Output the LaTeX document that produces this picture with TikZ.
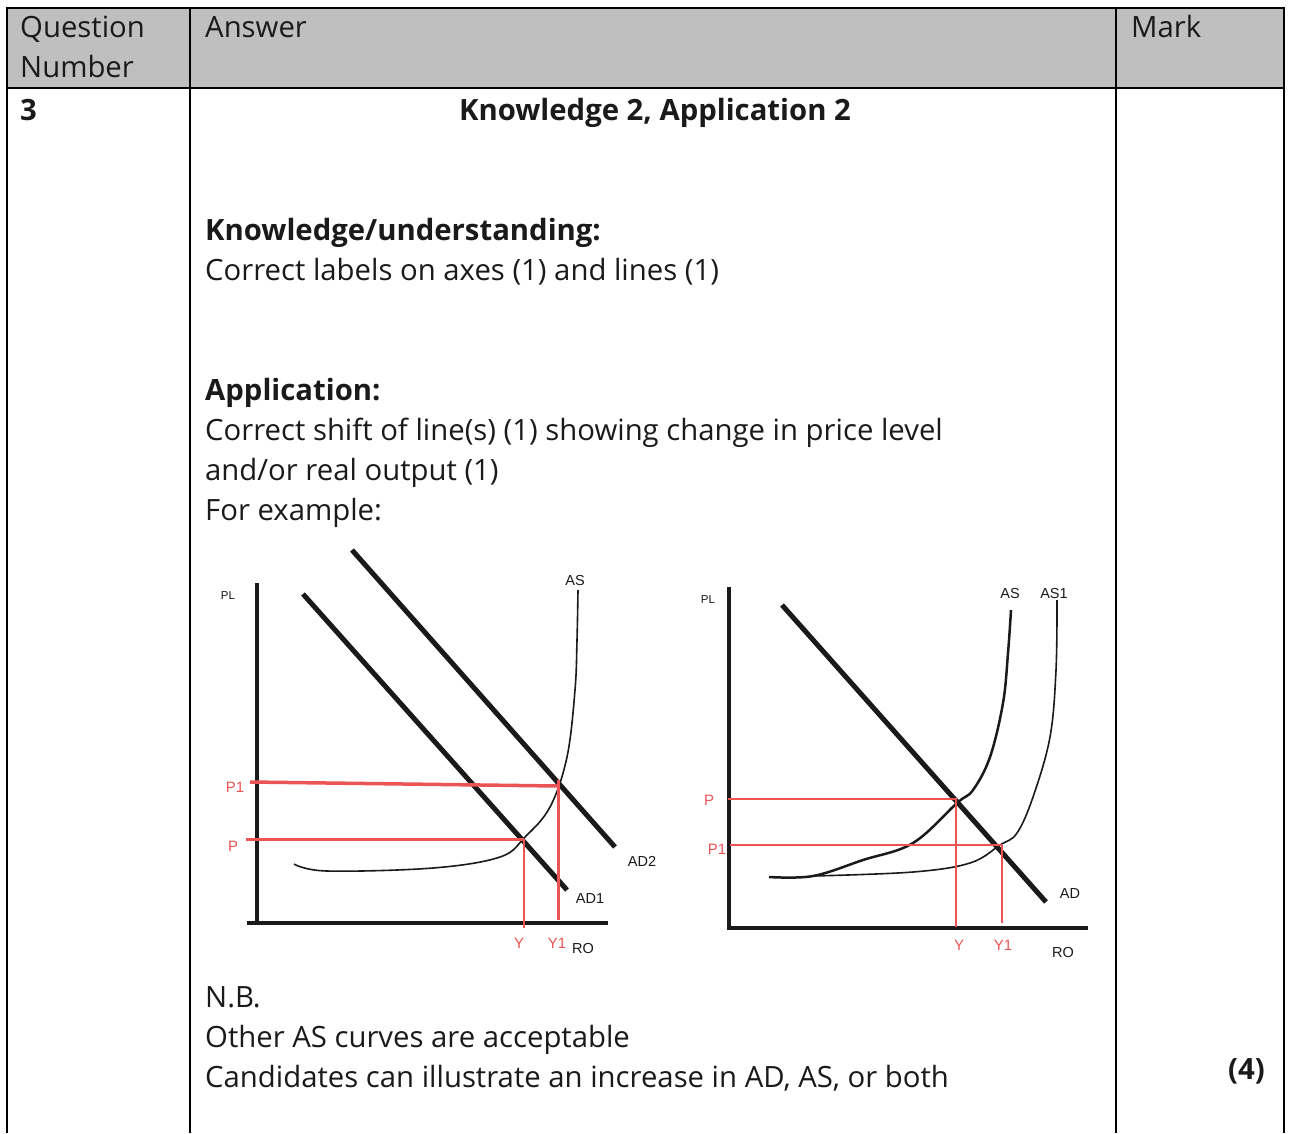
\documentclass[tikz,border=0pt]{standalone}
\usepackage{fontspec}
\setmainfont{Open Sans}
\newfontfamily\chartfont{Liberation Sans}
\usepackage{xcolor}
\usepackage{tikz}
\usetikzlibrary{positioning, calc}
\definecolor{mark-gray}{HTML}{BFBFBF}
\definecolor{mark-red}{HTML}{EB5454}
\definecolor{mark-dark}{HTML}{1A1A1A}

\begin{document}
\begin{tikzpicture}[x=1pt, y=-1pt,
    body/.style={anchor=base west, inner sep=0pt, text=mark-dark, font=\fontsize{29.3}{40}\selectfont},
    bodybold/.style={body, font=\fontsize{29.3}{40}\selectfont\bfseries},
    chart/.style={inner sep=0pt, font=\chartfont\fontsize{14.5}{16}\selectfont, text=mark-dark},
    chartsmall/.style={chart, font=\chartfont\fontsize{11.5}{13}\selectfont},
    chartred/.style={chart, text=mark-red, font=\chartfont\fontsize{15}{16}\selectfont},
    axis/.style={line width=3.5pt, mark-dark},
    demand/.style={line width=5pt, mark-dark},
    guide/.style={line width=2.5pt, mark-red}]
    \useasboundingbox (0,0) rectangle (1289,1133);
    \fill[white] (0,0) rectangle (1289,1133);

    % table frame
    \fill[mark-gray] (7,8) rectangle (1284,88);
    \draw[line width=2.5pt] (7,1133) -- (7,8) -- (1284,8) -- (1284,1133);
    \draw[line width=2.5pt] (7,88) -- (1284,88);
    \draw[line width=2.5pt] (190,8) -- (190,1133);
    \draw[line width=2.5pt] (1116,8) -- (1116,1133);

    % header row
    \node[body] (head-q1) at (20,37) {Question};
    \node[body] (head-q2) at (20,77) {Number};
    \node[body] (head-ans) at (205,37) {Answer};
    \node[body] (head-mark) at (1131,37) {Mark};

    % answer text
    \node[bodybold] (q-num) at (20,120) {3};
    \node[bodybold, anchor=base] (q-title) at (655,120) {Knowledge 2, Application 2};
    \node[bodybold] (kn-head) at (205,240) {Knowledge/understanding:};
    \node[body] (kn-line) at (205,280) {Correct labels on axes (1) and lines (1)};
    \node[bodybold] (app-head) at (205,400) {Application:};
    \node[body] (app-line1) at (205,440) {Correct shift of line(s) (1) showing change in price level};
    \node[body] (app-line2) at (205,480) {and/or real output (1)};
    \node[body] (app-line3) at (205,520) {For example:};
    \node[body] (nb-head) at (205,1007) {N.B.};
    \node[body] (nb-line1) at (205,1047) {Other AS curves are acceptable};
    \node[body] (nb-line2) at (205,1087) {Candidates can illustrate an increase in AD, AS, or both};
    \node[bodybold, anchor=base east] (q-marks) at (1265,1079) {(4)};

    % left diagram: AD shift
    \draw[axis] (257,583) -- (257,923);
    \draw[axis] (247,923) -- (608,923);
    \draw[demand] (303,594) -- (567,890);
    \draw[demand] (352,550) -- (615,847);
    \draw[line width=1.6pt, mark-dark] plot[smooth, tension=0.6] coordinates
        {(294,864) (327,871) (433,868) (500,857) (525,837) (550,807) (567,757) (575,690) (577,640) (578,590)};
    \coordinate (l-e1) at (524,839);
    \coordinate (l-e2) at (558,786);
    \draw[guide, line width=3pt] (246,839) -- (l-e1);
    \draw[guide] (l-e1) -- (524,928);
    \draw[guide, line width=3.5pt] (250,782) -- (l-e2);
    \draw[guide, line width=3pt] (558,780) -- (558,920);
    \node[chartsmall] (l-pl) at (228,596) {PL};
    \node[chart] (l-as) at (575,580) {AS};
    \node[chart] (l-ad2) at (642,861) {AD2};
    \node[chart] (l-ad1) at (590,898) {AD1};
    \node[chartred] (l-p1) at (235,787) {P1};
    \node[chartred] (l-p) at (233,846) {P};
    \node[chartred] (l-y) at (519,943) {Y};
    \node[chartred] (l-y1) at (557,943) {Y1};
    \node[chart] (l-ro) at (583,948) {RO};

    % right diagram: AS shift
    \draw[axis] (729,587) -- (729,928);
    \draw[axis] (727,928) -- (1088,928);
    \draw[demand] (782,605) -- (1046,902);
    \draw[line width=2.5pt, mark-dark] plot[smooth, tension=0.6] coordinates
        {(769,877) (813,876) (863,860) (913,843) (957,803) (973,790) (990,757) (1003,703) (1008,653) (1011,610)};
    \draw[line width=1.6pt, mark-dark] plot[smooth, tension=0.6] coordinates
        {(813,876) (913,872) (970,863) (1000,845) (1017,833) (1033,797) (1050,737) (1056,670) (1057,600)};
    \coordinate (r-e1) at (956,799);
    \coordinate (r-e2) at (1002,845);
    \draw[guide, line width=2pt] (728,799) -- (r-e1) -- (956,927);
    \draw[guide] (730,845) -- (r-e2);
    \draw[guide, line width=1.5pt] (r-e2) -- (1002,923);
    \node[chartsmall] (r-pl) at (708,600) {PL};
    \node[chart] (r-as) at (1010,593) {AS};
    \node[chart] (r-as1) at (1054,593) {AS1};
    \node[chart] (r-ad) at (1070,893) {AD};
    \node[chartred] (r-p) at (709,800) {P};
    \node[chartred] (r-p1) at (717,849) {P1};
    \node[chartred] (r-y) at (959,945) {Y};
    \node[chartred] (r-y1) at (1003,945) {Y1};
    \node[chart] (r-ro) at (1063,952) {RO};
\end{tikzpicture}
\end{document}
